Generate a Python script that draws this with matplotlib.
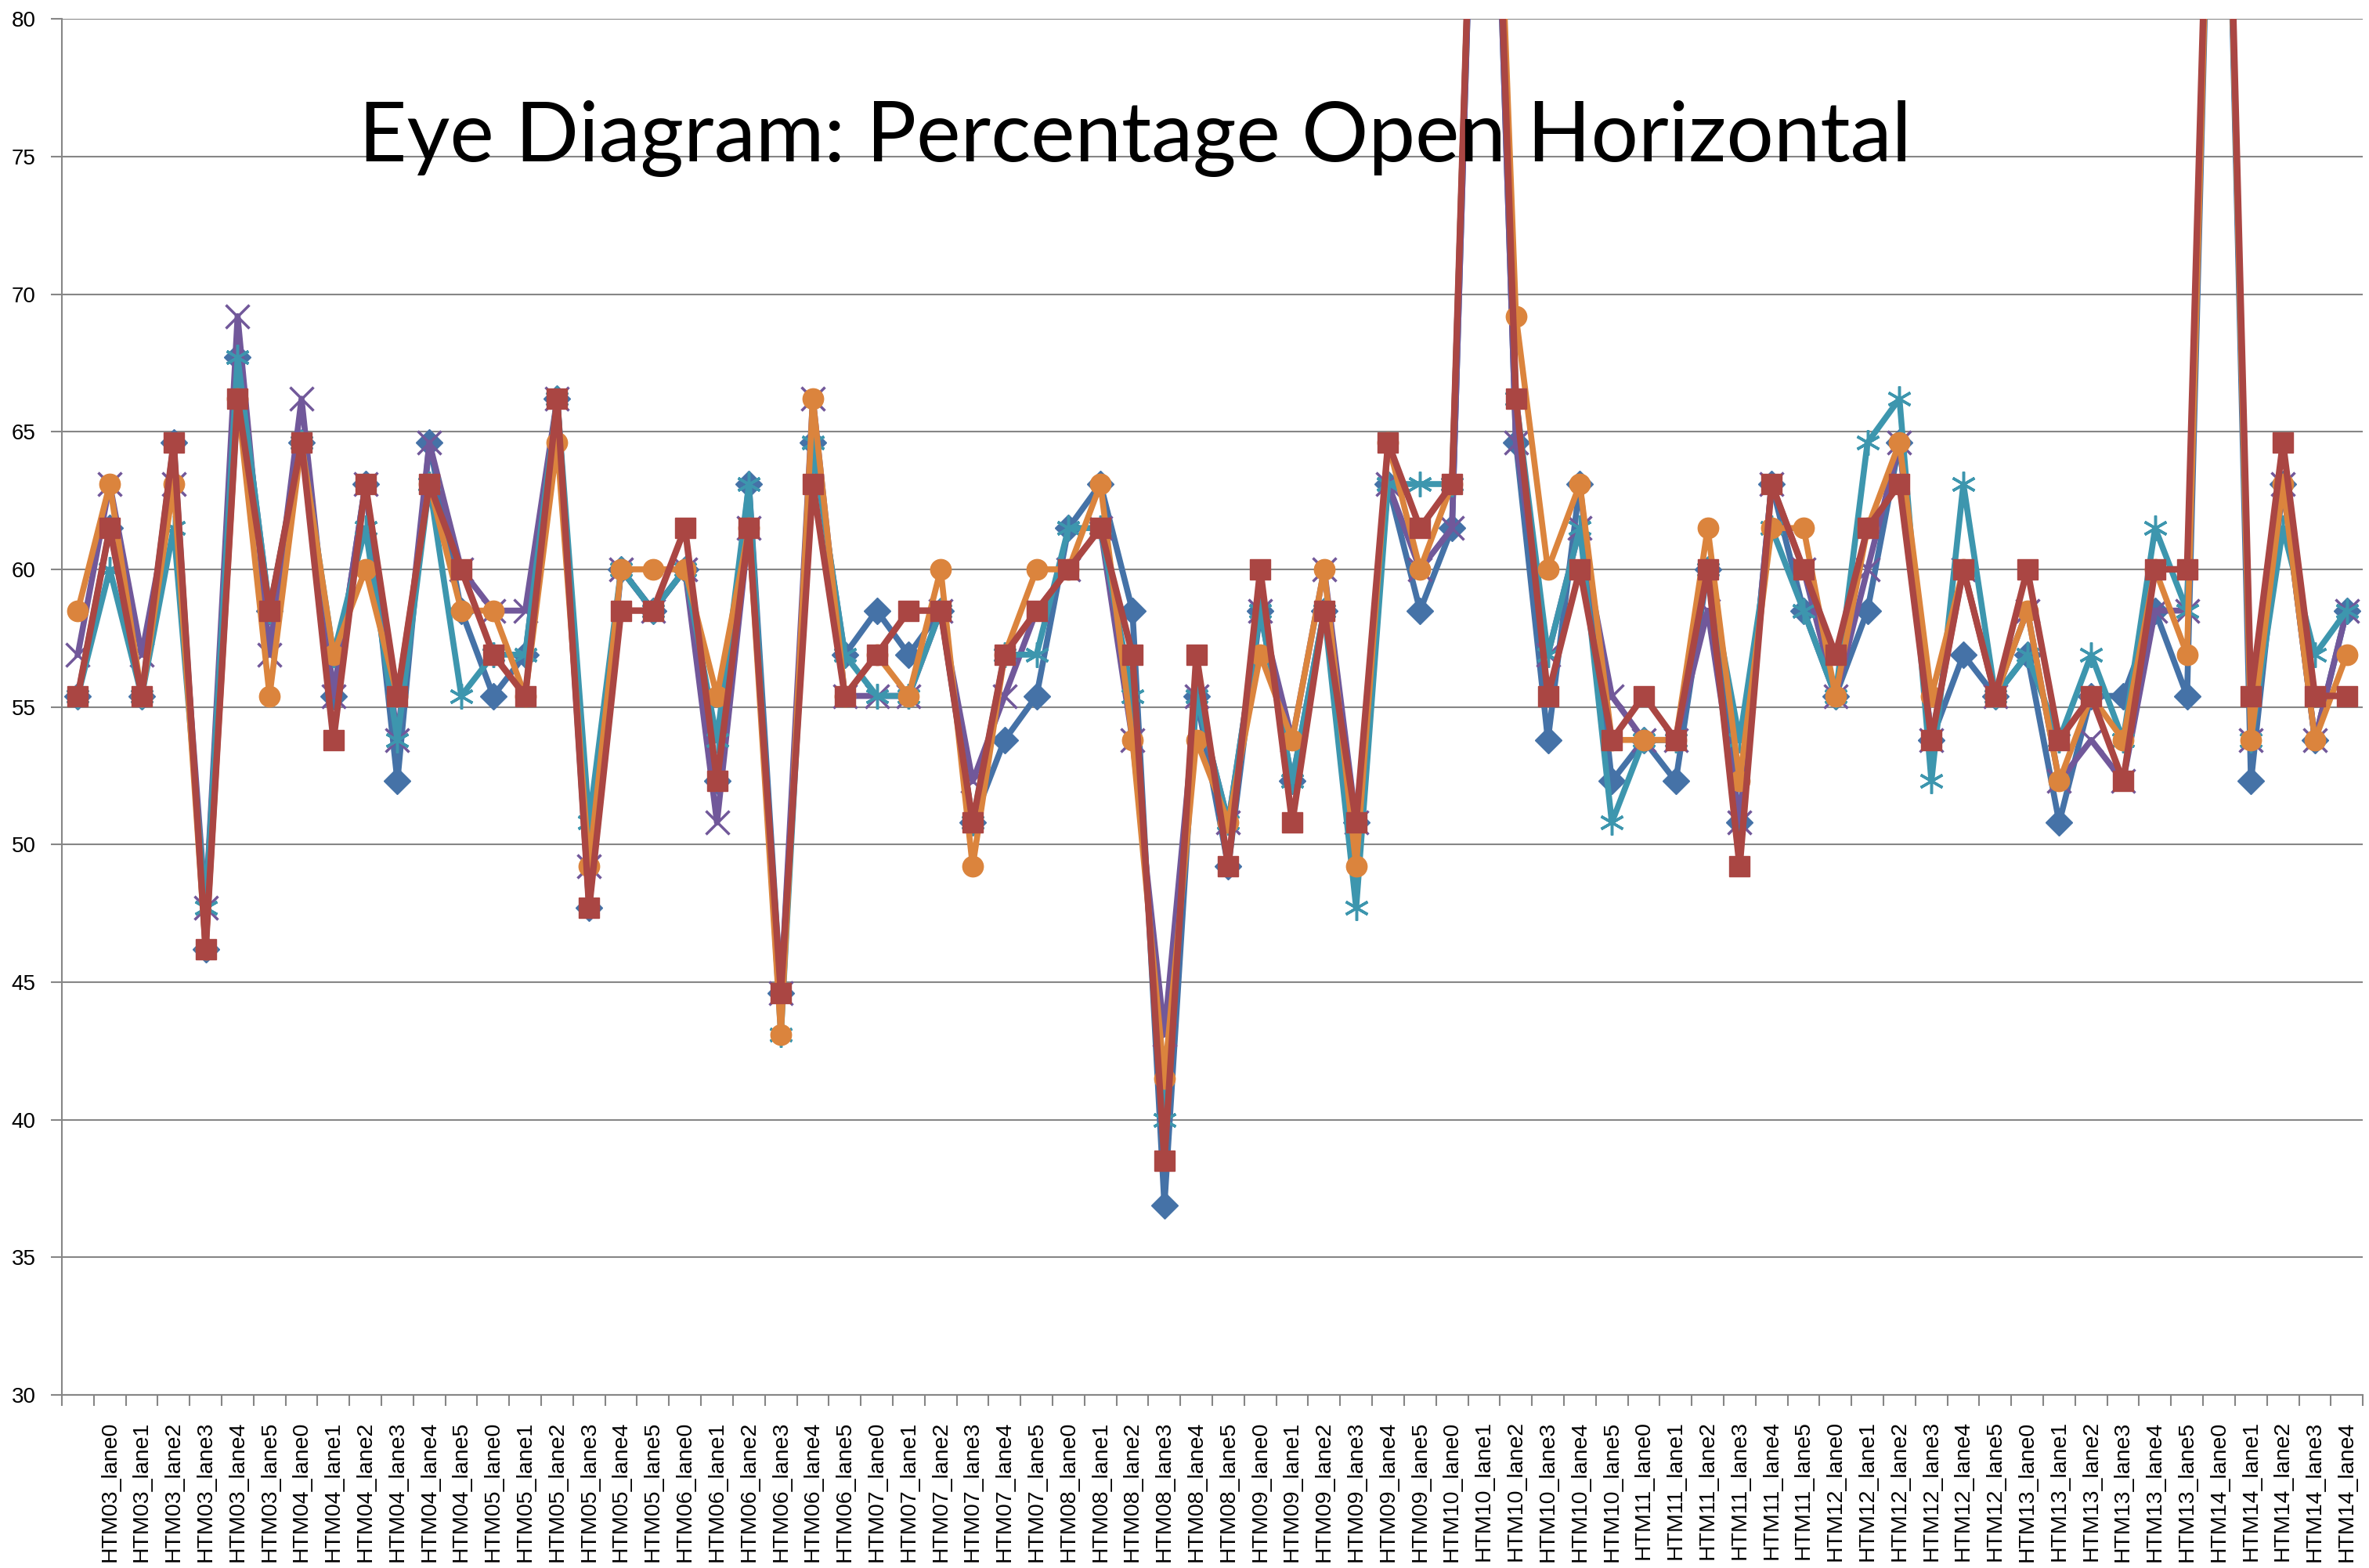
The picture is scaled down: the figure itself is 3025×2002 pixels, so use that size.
import matplotlib
matplotlib.use("Agg")
import matplotlib.pyplot as plt
import numpy as np

# category labels (first category has no label in the original sheet)
lanes = [''] + [f'HTM{h:02d}_lane{l}' for h in range(3, 15) for l in range(6)][:71]

# percentage open horizontal, one list per series
blue = [55.4, 61.5, 55.4, 64.6, 46.2, 67.7, 58.5, 64.6, 55.4, 63.1, 52.3, 64.6,
        58.5, 55.4, 56.9, 66.2, 47.7, 60.0, 58.5, 60.0, 52.3, 63.1, 44.6, 64.6,
        56.9, 58.5, 56.9, 58.5, 50.8, 53.8, 55.4, 61.5, 63.1, 58.5, 36.9, 55.4,
        49.2, 58.5, 52.3, 58.5, 50.8, 63.1, 58.5, 61.5, 100.0, 64.6, 53.8, 63.1,
        52.3, 53.8, 52.3, 60.0, 50.8, 63.1, 58.5, 55.4, 58.5, 64.6, 53.8, 56.9,
        55.4, 56.9, 50.8, 55.4, 55.4, 58.5, 55.4, 100.0, 52.3, 63.1, 53.8, 58.5]
red = [55.4, 61.5, 55.4, 64.6, 46.2, 66.2, 58.5, 64.6, 53.8, 63.1, 55.4, 63.1,
       60.0, 56.9, 55.4, 66.2, 47.7, 58.5, 58.5, 61.5, 52.3, 61.5, 44.6, 63.1,
       55.4, 56.9, 58.5, 58.5, 50.8, 56.9, 58.5, 60.0, 61.5, 56.9, 38.5, 56.9,
       49.2, 60.0, 50.8, 58.5, 50.8, 64.6, 61.5, 63.1, 100.0, 66.2, 55.4, 60.0,
       53.8, 55.4, 53.8, 60.0, 49.2, 63.1, 60.0, 56.9, 61.5, 63.1, 53.8, 60.0,
       55.4, 60.0, 53.8, 55.4, 52.3, 60.0, 60.0, 100.0, 55.4, 64.6, 55.4, 55.4]
purple = [56.9, 63.1, 56.9, 63.1, 47.7, 69.2, 56.9, 66.2, 55.4, 63.1, 53.8, 64.6,
          60.0, 58.5, 58.5, 66.2, 49.2, 60.0, 58.5, 60.0, 50.8, 61.5, 44.6, 66.2,
          55.4, 55.4, 55.4, 58.5, 52.3, 55.4, 58.5, 60.0, 61.5, 53.8, 43.1, 55.4,
          50.8, 58.5, 53.8, 60.0, 50.8, 63.1, 60.0, 61.5, 100.0, 64.6, 56.9, 61.5,
          55.4, 53.8, 53.8, 58.5, 50.8, 63.1, 60.0, 55.4, 60.0, 64.6, 53.8, 60.0,
          55.4, 58.5, 52.3, 53.8, 52.3, 58.5, 58.5, 100.0, 53.8, 63.1, 53.8, 58.5]
teal = [55.4, 60.0, 55.4, 61.5, 47.7, 67.7, 58.5, 64.6, 56.9, 61.5, 53.8, 63.1,
        55.4, 56.9, 56.9, 66.2, 50.8, 60.0, 58.5, 60.0, 53.8, 63.1, 43.1, 64.6,
        56.9, 55.4, 55.4, 58.5, 50.8, 56.9, 56.9, 61.5, 61.5, 55.4, 40.0, 55.4,
        50.8, 58.5, 52.3, 58.5, 47.7, 63.1, 63.1, 63.1, 100.0, 66.2, 56.9, 61.5,
        50.8, 53.8, 53.8, 60.0, 53.8, 61.5, 58.5, 55.4, 64.6, 66.2, 52.3, 63.1,
        55.4, 56.9, 53.8, 56.9, 53.8, 61.5, 58.5, 100.0, 53.8, 61.5, 56.9, 58.5]
orange = [58.5, 63.1, 55.4, 63.1, 46.2, 66.2, 55.4, 64.6, 56.9, 60.0, 55.4, 63.1,
          58.5, 58.5, 55.4, 64.6, 49.2, 60.0, 60.0, 60.0, 55.4, 61.5, 43.1, 66.2,
          55.4, 56.9, 55.4, 60.0, 49.2, 56.9, 60.0, 60.0, 63.1, 53.8, 41.5, 53.8,
          50.8, 56.9, 53.8, 60.0, 49.2, 64.6, 60.0, 63.1, 100.0, 69.2, 60.0, 63.1,
          53.8, 53.8, 53.8, 61.5, 52.3, 61.5, 61.5, 55.4, 61.5, 64.6, 55.4, 60.0,
          55.4, 58.5, 52.3, 55.4, 53.8, 60.0, 56.9, 100.0, 53.8, 63.1, 53.8, 56.9]

yticks = [30, 35, 40, 45, 50, 55, 60, 65, 70, 75, 80]

fig = plt.figure(figsize=(30.25, 20.02), dpi=100)
ax = fig.add_axes([0.0261, 0.1104, 0.9713, 0.8775])

x = np.arange(len(lanes))
lw = 5.5
ax.plot(x, blue, color='#4572A7', lw=lw, marker='D', ms=17, zorder=3)
ax.plot(x, purple, color='#71589A', lw=lw, marker='x', ms=21, mew=2.5, zorder=4)
ax.plot(x, teal, color='#3D96AE', lw=lw, marker=(6, 2, 0), ms=23, mew=2.5, zorder=5)
ax.plot(x, orange, color='#DB843D', lw=lw, marker='o', ms=19, zorder=6)
ax.plot(x, red, color='#AA4643', lw=6, marker='s', ms=19, zorder=7)

ax.set_xlim(-0.5, len(lanes) - 0.5)
ax.set_ylim(30, 80)
ax.set_yticks(yticks)
ax.set_yticklabels([str(v) for v in yticks], fontsize=20, family='Liberation Sans')
ax.set_xticks(x)
ax.set_xticklabels(lanes, rotation=90, fontsize=20.5, family='Liberation Sans')
ax.set_xticks(np.arange(len(lanes) + 1) - 0.5, minor=True)
ax.tick_params(axis='x', which='major', length=0, pad=24)
ax.tick_params(axis='x', which='minor', length=10, width=1.5, color='#868686')
ax.tick_params(axis='y', length=10, width=1.5, color='#868686', pad=14)

ax.grid(axis='y', color='#868686', lw=1.5)
ax.set_axisbelow(True)
for s in ['top', 'right']:
    ax.spines[s].set_visible(False)
for s in ['left', 'bottom']:
    ax.spines[s].set_color('#868686')
    ax.spines[s].set_linewidth(1.5)

# title sits inside the plot area, fit to the original width
t = fig.text(0.479, 0.897, 'Eye Diagram: Percentage Open Horizontal',
             ha='center', va='baseline', fontsize=80, family='Lato', zorder=10)
fig.canvas.draw()
w = t.get_window_extent().width
t.set_fontsize(80 * 1983 / w)

fig.savefig('out.png', dpi=100)
